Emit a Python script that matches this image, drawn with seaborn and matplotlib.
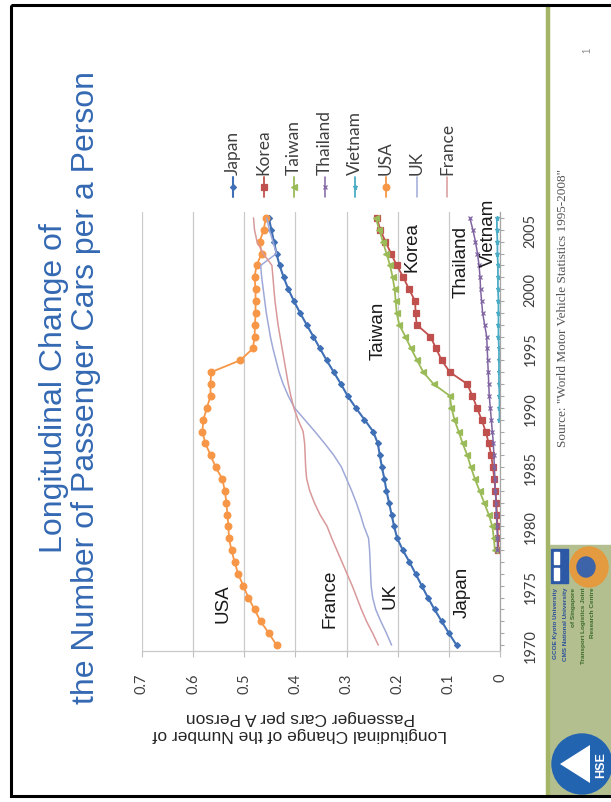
import numpy as np
import pandas as pd
import matplotlib
matplotlib.use("Agg")
import matplotlib.pyplot as plt
import seaborn as sns
from matplotlib.patches import Rectangle, Circle, Polygon, Ellipse
from matplotlib.lines import Line2D

# ---------------- data: passenger cars per person, 1970-2006 ----------------
years = list(range(1970, 2007))
tick_years = [1970, 1975, 1980, 1985, 1990, 1995, 2000, 2005]
value_ticks = [0, 0.1, 0.2, 0.3, 0.4, 0.5, 0.6, 0.7]
value_labels = ["0", "0.1", "0.2", "0.3", "0.4", "0.5", "0.6", "0.7"]

japan = [0.085, 0.100, 0.114, 0.128, 0.141, 0.153, 0.165, 0.177, 0.190, 0.201,
         0.207, 0.212, 0.217, 0.222, 0.226, 0.231, 0.235, 0.239, 0.248, 0.265,
         0.282, 0.298, 0.311, 0.325, 0.339, 0.352, 0.365, 0.378, 0.391, 0.403,
         0.414, 0.423, 0.431, 0.437, 0.442, 0.447, 0.452]
korea = [None] * 8 + [0.003, 0.004, 0.005, 0.006, 0.007, 0.009, 0.011, 0.014,
                      0.017, 0.022, 0.028, 0.036, 0.045, 0.054, 0.064, 0.098,
                      0.114, 0.125, 0.136, 0.163, 0.165, 0.166, 0.178, 0.189,
                      0.202, 0.213, 0.224, 0.234, 0.241]
taiwan = [None] * 8 + [0.010, 0.012, 0.015, 0.022, 0.031, 0.040, 0.049, 0.057,
                       0.064, 0.073, 0.081, 0.089, 0.095, 0.098, 0.130, 0.150,
                       0.162, 0.174, 0.185, 0.197, 0.202, 0.204, 0.206, 0.210,
                       0.215, 0.222, 0.229, 0.236, 0.243]
thailand = [None] * 8 + [0.005, 0.005, 0.006, 0.007, 0.008, 0.009, 0.010, 0.011,
                         0.012, 0.013, 0.015, 0.017, 0.019, 0.021, 0.022, 0.023,
                         0.024, 0.025, 0.026, 0.030, 0.034, 0.036, 0.038, 0.039,
                         0.041, 0.044, 0.048, 0.053, 0.059]
vietnam = [None] * 19 + [0.001, 0.001, 0.001, 0.002, 0.002, 0.002, 0.002, 0.003,
                         0.003, 0.003, 0.003, 0.004, 0.004, 0.004, 0.005, 0.005,
                         0.006, 0.006]
usa = [0.437, 0.452, 0.468, 0.480, 0.492, 0.502, 0.512, 0.519, 0.525, 0.530,
       0.531, 0.533, 0.535, 0.538, 0.543, 0.556, 0.566, 0.576, 0.582, 0.580,
       0.573, 0.566, 0.566, 0.565, 0.508, 0.483, 0.480, 0.479, 0.478, 0.478,
       0.478, 0.480, 0.476, 0.466, 0.470, 0.462, 0.458]
uk = [0.212, 0.222, 0.233, 0.243, 0.249, 0.252, 0.253, 0.254, 0.255, 0.257,
      0.266, 0.273, 0.281, 0.290, 0.300, 0.310, 0.325, 0.343, 0.362, 0.382,
      0.402, 0.414, 0.424, 0.432, 0.438, 0.444, 0.449, 0.453, 0.457, 0.460,
      0.463, 0.466, 0.468, 0.437, 0.444, 0.451, 0.456]
france = [0.238, 0.249, 0.261, 0.271, 0.280, 0.289, 0.299, 0.309, 0.319, 0.329,
          0.338, 0.352, 0.363, 0.372, 0.378, 0.380, 0.381, 0.382, 0.385, 0.395,
          0.403, 0.409, 0.414, 0.418, 0.422, 0.426, 0.430, 0.434, 0.437, 0.440,
          0.442, 0.444, 0.446, 0.463, 0.475, 0.480, 0.482]

countries = ["Japan", "Korea", "Taiwan", "Thailand", "Vietnam", "USA", "UK", "France"]
series = [japan, korea, taiwan, thailand, vietnam, usa, uk, france]

# in-plot country labels: (label, value, year)
label_names = ["USA", "France", "UK", "Japan", "Taiwan", "Korea", "Thailand", "Vietnam"]
label_values = [0.542, 0.332, 0.215, 0.074, 0.239, 0.172, 0.076, 0.022]
label_years = [1973.6, 1974.0, 1974.2, 1974.5, 1996.6, 2003.6, 2002.4, 2004.8]

# ---------------- styles ----------------
colors = ["#3F6FB5", "#C0504D", "#9BBB59", "#8064A2", "#4BACC6", "#F79646",
          "#9FA9D8", "#D9999A"]
markers = ["D", "s", "<", "x", "*", "o", None, None]
msizes = [3.0, 4.2, 4.6, 2.8, 3.6, 4.8, 0, 0]
lwidths = [1.5, 1.3, 1.3, 1.1, 1.3, 1.3, 1.1, 1.1]

rows = []
for name, vals in zip(countries, series):
    for yr, v in zip(years, vals):
        if v is not None:
            rows.append({"country": name, "year": yr, "value": v})
df = pd.DataFrame(rows)

sns.set_theme(style="white")
plt.rcParams["font.family"] = ["Liberation Sans", "DejaVu Sans"]
LATO = ["Lato", "DejaVu Sans"]

W, H = 611, 803
fig = plt.figure(figsize=(W / 100, H / 100), dpi=100)
fig.patch.set_facecolor("white")

# full-page layer in pixel units for the slide decoration
bg = fig.add_axes([0, 0, 1, 1], zorder=0)
bg.set_xlim(0, W)
bg.set_ylim(H, 0)
bg.axis("off")

# plot area (pixels): value axis runs right-to-left, years bottom-to-top
L, R, T, B = 142, 500, 213, 652
ax = fig.add_axes([L / W, 1 - B / H, (R - L) / W, (B - T) / H], zorder=2)
ax.patch.set_alpha(0)

for name, col, mk, ms, lw in zip(countries, colors, markers, msizes, lwidths):
    d = df[df["country"] == name]
    kw = dict(color=col, linewidth=lw)
    if mk is not None:
        kw.update(marker=mk, markersize=ms, markeredgecolor=col,
                  markerfacecolor=col, markeredgewidth=0.9)
    sns.lineplot(data=d, x="value", y="year", sort=False, estimator=None,
                 ax=ax, legend=False, **kw)

ax.set_xlim(0.7, 0)
ax.set_ylim(1969.5, 2006.5)
ax.set_xlabel("")
ax.set_ylabel("")

ax.set_xticks(value_ticks)
ax.set_xticklabels(value_labels, rotation=90, fontsize=10.5, color="#404040",
                   family=LATO)
ax.grid(False)
ax.xaxis.grid(True, color="#CACACA", linewidth=0.9)

ax.yaxis.tick_right()
ax.set_yticks(tick_years)
ax.set_yticklabels([str(y) for y in tick_years], rotation=90, va="center",
                   fontsize=10.5, color="#404040", family=LATO)
ax.set_yticks(years, minor=True)
ax.tick_params(axis="y", which="both", right=True, left=False, direction="out",
               length=3, width=0.8, color="#A6A6A6", pad=14)
ax.tick_params(axis="x", which="major", bottom=True, direction="out",
               length=4, width=0.8, color="#BFBFBF", pad=11.5)

for s in ["top", "left"]:
    ax.spines[s].set_visible(False)
ax.spines["right"].set_color("#A6A6A6")
ax.spines["right"].set_linewidth(0.9)
ax.spines["bottom"].set_color("#C8C8C8")
ax.spines["bottom"].set_linewidth(0.9)

for name, v, yr in zip(label_names, label_values, label_years):
    ax.text(v, yr, name, rotation=90, ha="center", va="center", fontsize=13.5,
            color="#1A1A1A")

# ---------------- slide decoration ----------------
bg.add_patch(Rectangle((11, 6), 700, 791, fill=False, edgecolor="black",
                       linewidth=2.2, zorder=5))
bg.add_line(Line2D([548, 548], [7, 796], color="#A4B567", linewidth=3.2, zorder=3))

title_blue = "#3469B3"
bg.text(70, 388, "Longitudinal Change of\nthe Number of Passenger Cars per a Person",
        rotation=90, ha="center", va="center", multialignment="center",
        fontsize=23, color=title_blue, linespacing=1.1)

bg.text(300, 726, "Longitudinal Change of the Number of\nPassenger Cars per A Person",
        rotation=180, ha="center", va="center", multialignment="center",
        fontsize=12.5, color="#262626", linespacing=1.15)

# legend, one vertical key per country
for i, (name, col, mk, ms, lw) in enumerate(zip(countries, colors, markers,
                                                   msizes, lwidths)):
    x = 233 + 30.6 * i
    bg.add_line(Line2D([x, x], [178, 198], color=col, linewidth=lw))
    if mk is not None:
        bg.add_line(Line2D([x], [188], marker=mk, markersize=ms, color=col,
                           markerfacecolor=col, markeredgecolor=col,
                           markeredgewidth=0.9))
    bg.text(x, 175, name, rotation=90, ha="center", va="bottom", fontsize=12.5,
            color="#404040", family=LATO)

bg.text(563, 308, 'Source: "World Motor Vehicle Statistics 1995-2008"', rotation=90,
        ha="center", va="center", fontsize=9.5, color="#555555",
        family=["Liberation Serif", "DejaVu Serif"])

bg.text(587, 50, "1", rotation=90, ha="center", va="center", fontsize=7,
        color="#8C8C8C")

# footer logos
bg.add_patch(Rectangle((550, 546), 61, 251, color="#B4BF8F", zorder=1))
bg.add_patch(Rectangle((551, 550), 17, 34, color="#2D58A6", zorder=2))
bg.add_patch(Rectangle((554, 553), 5, 12, color="white", zorder=3))
bg.add_patch(Rectangle((554, 569), 5, 12, color="white", zorder=3))
bg.add_patch(Ellipse((589, 568), 38, 40, color="#E49A3E", zorder=2))
bg.add_patch(Ellipse((586, 568), 18, 20, color="#3D63A8", zorder=3))
logo_lines = ["GCOE Kyoto University", "CMS National University", "of Singapore",
              "Transport Logistics Joint", "Research Centre"]
logo_cols = ["#2A4F9A", "#2A4F9A", "#3B6A2A", "#3B6A2A", "#3B6A2A"]
for j, (t, c) in enumerate(zip(logo_lines, logo_cols)):
    bg.text(556 + 9 * j, 588, t, rotation=90, ha="center", va="top", fontsize=4.6,
            color=c, weight="bold", zorder=3)
bg.add_patch(Circle((582, 765), 30, color="#2364B1", zorder=2))
bg.add_patch(Polygon([[560, 765], [590, 746], [590, 784]], closed=True,
                     facecolor="white", edgecolor="none", zorder=3))
bg.text(601, 765, "HSE", rotation=90, ha="center", va="center", fontsize=9,
        color="white", weight="bold", zorder=4)

fig.savefig("out.png", dpi=100, facecolor="white")
